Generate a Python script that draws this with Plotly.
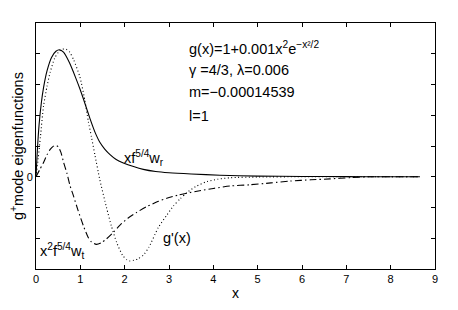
import plotly.graph_objects as go

# xf^{5/4} w_r (solid)
x_wr = [0, 0.03, 0.07, 0.12, 0.17, 0.25, 0.35, 0.45, 0.53, 0.62, 0.75, 0.9, 1.0, 1.1, 1.22, 1.33, 1.44, 1.55, 1.67, 1.8, 1.97, 2.2, 2.42, 2.7, 3.0, 3.5, 4.15, 5.0, 6.0, 7.0, 8.0, 8.66]
y_wr = [0, 0.85, 1.7, 2.4, 2.9, 3.45, 3.88, 4.08, 4.13, 4.05, 3.72, 3.2, 2.82, 2.4, 1.88, 1.45, 1.12, 0.9, 0.72, 0.57, 0.45, 0.33, 0.24, 0.17, 0.13, 0.09, 0.05, 0.02, 0.01, 0.005, 0.0, 0.0]

# g'(x) (dotted)
x_gp = [0, 0.05, 0.1, 0.17, 0.25, 0.32, 0.42, 0.52, 0.6, 0.68, 0.76, 0.85, 0.99, 1.1, 1.18, 1.25, 1.33, 1.44, 1.59, 1.7, 1.82, 1.95, 2.05, 2.12, 2.2, 2.3, 2.42, 2.55, 2.76, 2.95, 3.1, 3.25, 3.4, 3.6, 3.85, 4.1, 4.4, 5.0, 6.0, 7.0, 8.0, 8.66]
y_gp = [0, 0.6, 1.3, 2.3, 2.95, 3.4, 3.85, 4.08, 4.15, 4.15, 4.05, 3.8, 3.25, 2.5, 1.8, 1.3, 0.7, -0.1, -1.0, -1.6, -2.14, -2.55, -2.7, -2.74, -2.72, -2.67, -2.55, -2.28, -1.65, -1.25, -0.95, -0.72, -0.52, -0.32, -0.16, -0.08, -0.03, -0.01, 0.0, 0.0, 0.0, 0.0]

# x^2 f^{5/4} w_t (dash-dot)
x_wt = [0, 0.08, 0.165, 0.25, 0.32, 0.38, 0.43, 0.5, 0.56, 0.62, 0.7, 0.77, 0.84, 0.95, 1.07, 1.17, 1.25, 1.36, 1.47, 1.59, 1.75, 1.89, 2.08, 2.27, 2.5, 2.76, 2.95, 3.2, 3.63, 4.0, 4.38, 4.83, 5.3, 5.73, 6.2, 6.63, 7.08, 7.53, 8.0, 8.66]
y_wt = [0, 0.22, 0.45, 0.72, 0.89, 0.98, 1.02, 0.98, 0.8, 0.48, 0.1, -0.3, -0.6, -1.1, -1.6, -1.95, -2.12, -2.2, -2.15, -2.02, -1.8, -1.58, -1.34, -1.16, -0.97, -0.8, -0.7, -0.6, -0.47, -0.38, -0.3, -0.26, -0.2, -0.14, -0.1, -0.07, -0.03, 0.0, 0.0, 0.0]

x_ticks = [0, 1, 2, 3, 4, 5, 6, 7, 8, 9]
y_ticks = [-3, -2, -1, 0, 1, 2, 3, 4, 5]
y_tick_labels = ["", "", "", "0", "", "", "", "", ""]

FONT = "Liberation Sans, Arial, sans-serif"

fig = go.Figure()
fig.add_trace(go.Scatter(x=x_wr, y=y_wr, mode="lines", line=dict(color="black", width=1.1, shape="spline", smoothing=0.6)))
fig.add_trace(go.Scatter(x=x_gp, y=y_gp, mode="lines", line=dict(color="black", width=1.1, dash="1px,2.5px", shape="spline", smoothing=0.6)))
fig.add_trace(go.Scatter(x=x_wt, y=y_wt, mode="lines", line=dict(color="black", width=1.1, dash="7px,3px,1.5px,3px", shape="spline", smoothing=0.6)))

axis_common = dict(showgrid=False, zeroline=False, showline=True, linecolor="black", linewidth=1,
                   mirror="ticks", ticks="inside", ticklen=4, tickcolor="black", automargin=False,
                   tickfont=dict(family=FONT, size=11, color="black"))

fig.update_xaxes(range=[0, 9], tickvals=x_ticks, **axis_common,
                 title=dict(text="x", font=dict(family=FONT, size=14, color="black"), standoff=3))
fig.update_yaxes(range=[-3, 5], tickvals=y_ticks, ticktext=y_tick_labels, **axis_common,
                 title=dict(text="g<sup>+</sup>mode eigenfunctions", font=dict(family=FONT, size=14.5, color="black"), standoff=8))

ann_font = dict(family=FONT, size=14.5, color="black")
annotations = [
    dict(x=3.4, y=4.2, text="g(x)=1+0.001x<sup>2</sup>e<sup>−x²/2</sup>"),
    dict(x=3.4, y=3.48, text="γ =4/3, λ=0.006"),
    dict(x=3.4, y=2.76, text="m=−0.00014539"),
    dict(x=3.4, y=1.98, text="l=1"),
    dict(x=1.95, y=0.62, text="xf<sup>5/4</sup>w<sub>r</sub>"),
    dict(x=0.05, y=-2.4, text="x<sup>2</sup>f<sup>5/4</sup>w<sub>t</sub>"),
    dict(x=2.82, y=-1.98, text="g'(x)"),
]
for a in annotations:
    fig.add_annotation(x=a["x"], y=a["y"], text=a["text"], showarrow=False, xanchor="left",
                       yanchor="middle", font=ann_font)

# page body adds an 8px offset; size the figure so the plot area lands where the reference has it
fig.update_layout(width=450, height=302, margin=dict(l=28, r=23, t=15, b=41),
                  plot_bgcolor="white", paper_bgcolor="white", showlegend=False)

fig.write_html("out.html")
